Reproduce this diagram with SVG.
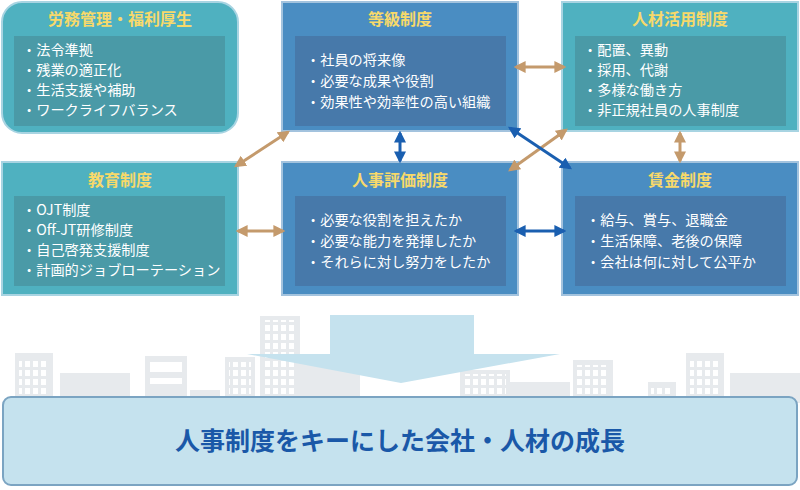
<svg xmlns="http://www.w3.org/2000/svg" width="800" height="490" viewBox="0 0 800 490">
<defs>
<style>
.t{font-family:"Noto Sans CJK JP","Noto Sans",sans-serif;}
.ttl{font-size:16px;font-weight:bold;fill:#f7d96a;text-anchor:middle;}
.it{font-size:14.2px;fill:#fff;}
.teal{fill:#4fb1c0;stroke:#a8d4e2;stroke-width:2;}
.blue{fill:#4a8dc2;stroke:#a3c3de;stroke-width:2;}
.ti{fill:#4a9aa7;}
.bi{fill:#4779aa;}
.bg{fill:#e7eaed;}
.ca{stroke:#c49a6c;stroke-width:3;marker-start:url(#tA);marker-end:url(#tB);}
.cb{stroke:#1a5fb0;stroke-width:3;marker-start:url(#bA);marker-end:url(#bB);}
</style>
<pattern id="win" width="8" height="9" patternUnits="userSpaceOnUse"><rect x="1" y="1" width="5" height="6" fill="#fff"/></pattern>
<marker id="tB" viewBox="0 0 10 10" refX="8" refY="5" markerWidth="4" markerHeight="4" orient="auto"><path d="M0,0L10,5L0,10z" fill="#c49a6c"/></marker>
<marker id="tA" viewBox="0 0 10 10" refX="2" refY="5" markerWidth="4" markerHeight="4" orient="auto"><path d="M10,0L0,5L10,10z" fill="#c49a6c"/></marker>
<marker id="bB" viewBox="0 0 10 10" refX="8" refY="5" markerWidth="4" markerHeight="4" orient="auto"><path d="M0,0L10,5L0,10z" fill="#1a5fb0"/></marker>
<marker id="bA" viewBox="0 0 10 10" refX="2" refY="5" markerWidth="4" markerHeight="4" orient="auto"><path d="M10,0L0,5L10,10z" fill="#1a5fb0"/></marker>
</defs>
<rect width="800" height="490" fill="#fff"/>
<g id="city">
<rect class="bg" x="15" y="353" width="38" height="50"/><rect x="19" y="358" width="30" height="40" fill="url(#win)"/>
<rect class="bg" x="60" y="373" width="70" height="30"/>
<rect class="bg" x="145" y="356" width="42" height="47"/><rect x="150" y="362" width="32" height="10" fill="#fff"/><rect x="150" y="378" width="32" height="6" fill="#fff"/>
<rect class="bg" x="190" y="390" width="30" height="13"/>
<rect class="bg" x="225" y="357" width="30" height="46"/><rect x="229" y="362" width="22" height="36" fill="url(#win)"/>
<rect class="bg" x="260" y="316" width="40" height="87"/><rect x="264" y="320" width="32" height="78" fill="url(#win)"/>
<rect class="bg" x="300" y="360" width="60" height="43"/>
<rect class="bg" x="460" y="370" width="50" height="33"/><rect x="464" y="374" width="42" height="24" fill="url(#win)"/>
<rect class="bg" x="510" y="382" width="60" height="21"/>
<rect class="bg" x="573" y="360" width="40" height="43"/><rect x="577" y="365" width="32" height="33" fill="url(#win)"/>
<rect class="bg" x="648" y="382" width="28" height="21"/><rect x="651" y="385" width="22" height="14" fill="url(#win)"/>
<rect class="bg" x="686" y="353" width="38" height="50"/><rect x="690" y="358" width="30" height="40" fill="url(#win)"/>
<rect class="bg" x="730" y="373" width="70" height="30"/>
</g>
<g id="n1"><rect class="teal" x="2" y="2" width="236" height="131" rx="20"/><rect class="ti" x="14" y="36" width="211" height="90"/>
<text class="t ttl" x="120" y="25">労務管理・福利厚生</text>
<text class="t it" x="22" y="55">・法令準拠</text><text class="t it" x="22" y="75">・残業の適正化</text><text class="t it" x="22" y="95">・生活支援や補助</text><text class="t it" x="22" y="115">・ワークライフバランス</text></g>
<g id="n2"><rect class="blue" x="282" y="2" width="236" height="129"/><rect class="bi" x="295" y="36" width="211" height="90"/>
<text class="t ttl" x="400" y="25">等級制度</text>
<text class="t it" x="306" y="65">・社員の将来像</text><text class="t it" x="306" y="86">・必要な成果や役割</text><text class="t it" x="306" y="107">・効果性や効率性の高い組織</text></g>
<g id="n3"><rect class="teal" x="562" y="2" width="236" height="129"/><rect class="ti" x="575" y="36" width="211" height="90"/>
<text class="t ttl" x="680" y="25">人材活用制度</text>
<text class="t it" x="583" y="55">・配置、異動</text><text class="t it" x="583" y="75">・採用、代謝</text><text class="t it" x="583" y="95">・多様な働き方</text><text class="t it" x="583" y="115">・非正規社員の人事制度</text></g>
<g id="n4"><rect class="teal" x="2" y="162" width="236" height="133"/><rect class="ti" x="14" y="196" width="211" height="90"/>
<text class="t ttl" x="120" y="186">教育制度</text>
<text class="t it" x="22" y="215">・OJT制度</text><text class="t it" x="22" y="235">・Off-JT研修制度</text><text class="t it" x="22" y="255">・自己啓発支援制度</text><text class="t it" x="22" y="275">・計画的ジョブローテーション</text></g>
<g id="n5"><rect class="blue" x="282" y="162" width="236" height="133"/><rect class="bi" x="295" y="196" width="211" height="90"/>
<text class="t ttl" x="400" y="186">人事評価制度</text>
<text class="t it" x="306" y="225">・必要な役割を担えたか</text><text class="t it" x="306" y="246">・必要な能力を発揮したか</text><text class="t it" x="306" y="267">・それらに対し努力をしたか</text></g>
<g id="n6"><rect class="blue" x="562" y="162" width="236" height="133"/><rect class="bi" x="575" y="196" width="211" height="90"/>
<text class="t ttl" x="680" y="186">賃金制度</text>
<text class="t it" x="586" y="225">・給与、賞与、退職金</text><text class="t it" x="586" y="246">・生活保障、老後の保障</text><text class="t it" x="586" y="267">・会社は何に対して公平か</text></g>
<g id="connectors">
<line class="ca" x1="236" y1="166" x2="288" y2="132"/>
<line class="ca" x1="238" y1="231" x2="283" y2="231"/>
<line class="ca" x1="516" y1="67" x2="564" y2="67"/>
<line class="ca" x1="510" y1="170" x2="566" y2="130"/>
<line class="ca" x1="680" y1="133" x2="680" y2="161"/>
<line class="cb" x1="400" y1="133" x2="400" y2="161"/>
<line class="cb" x1="510" y1="128" x2="570" y2="168"/>
<line class="cb" x1="516" y1="231" x2="564" y2="231"/>
</g>
<g id="bigarrow"><path d="M330,315H474V354H560L401,383L247,354H330Z" fill="#c5e2ee"/></g>
<g id="result"><rect x="3" y="397" width="794" height="88" rx="8" fill="#c5e2ee" stroke="#7ba4c2" stroke-width="2"/>
<text class="t" x="400" y="450" font-size="25" font-weight="bold" fill="#1a58a8" text-anchor="middle">人事制度をキーにした会社・人材の成長</text></g>
</svg>
